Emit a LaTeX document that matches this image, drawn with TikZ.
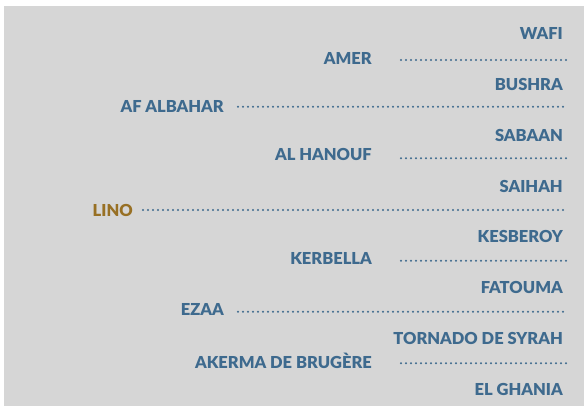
\documentclass[tikz,border=0pt]{standalone}
\usepackage{fontspec}
\setmainfont{Lato}[BoldFont={Lato Black}]
\definecolor{bgray}{RGB}{214,214,214}
\definecolor{nblue}{RGB}{62,106,142}
\definecolor{ngold}{RGB}{152,112,36}
\begin{document}
\begin{tikzpicture}[x=1pt,y=-1pt,
  pname/.style={anchor=base east,inner sep=0pt,text=nblue,font=\fontsize{16.5}{19}\selectfont\bfseries},
  dotline/.style={draw=nblue,line width=2.3pt,line cap=round,dash pattern=on 0pt off 5pt}]
\useasboundingbox (0,0) rectangle (584,412);
\fill[bgray] (4,6) rectangle (584,406);
% third generation (right column)
\node[pname] (wafi) at (563,40) {WAFI};
\node[pname] (bushra) at (563,90.7) {BUSHRA};
\node[pname] (sabaan) at (563,141.4) {SABAAN};
\node[pname] (saihah) at (563,192) {SAIHAH};
\node[pname] (kesberoy) at (563,242.8) {KESBEROY};
\node[pname] (fatouma) at (563,293.5) {FATOUMA};
\node[pname] (tornado) at (563,344.5) {TORNADO DE SYRAH};
\node[pname] (ghania) at (563,395) {EL GHANIA};
% second generation
\node[pname] (amer) at (372,64.3) {AMER};
\node[pname] (hanouf) at (372,160.7) {AL HANOUF};
\node[pname] (kerbella) at (372,264) {KERBELLA};
\node[pname] (akerma) at (372,368.3) {AKERMA DE BRUGÈRE};
% first generation
\node[pname] (albahar) at (224,112.5) {AF ALBAHAR};
\node[pname] (ezaa) at (224,315.5) {EZAA};
% subject
\node[pname,text=ngold] (lino) at (133,216) {LINO};
% line coordinates
\coordinate (amer-s) at (401,60);   \coordinate (amer-e) at (566,60);
\coordinate (albahar-s) at (238,106.7); \coordinate (albahar-e) at (566,106.7);
\coordinate (hanouf-s) at (401,158.3); \coordinate (hanouf-e) at (566,158.3);
\coordinate (lino-s) at (143,210);  \coordinate (lino-e) at (566,210);
\coordinate (kerbella-s) at (401,260.7); \coordinate (kerbella-e) at (566,260.7);
\coordinate (ezaa-s) at (238,311.7); \coordinate (ezaa-e) at (566,311.7);
\coordinate (akerma-s) at (401,363.3); \coordinate (akerma-e) at (566,363.3);
\foreach \n in {amer,albahar,hanouf,lino,kerbella,ezaa,akerma}
  \draw[dotline] (\n-s) -- (\n-e);
\end{tikzpicture}
\end{document}
